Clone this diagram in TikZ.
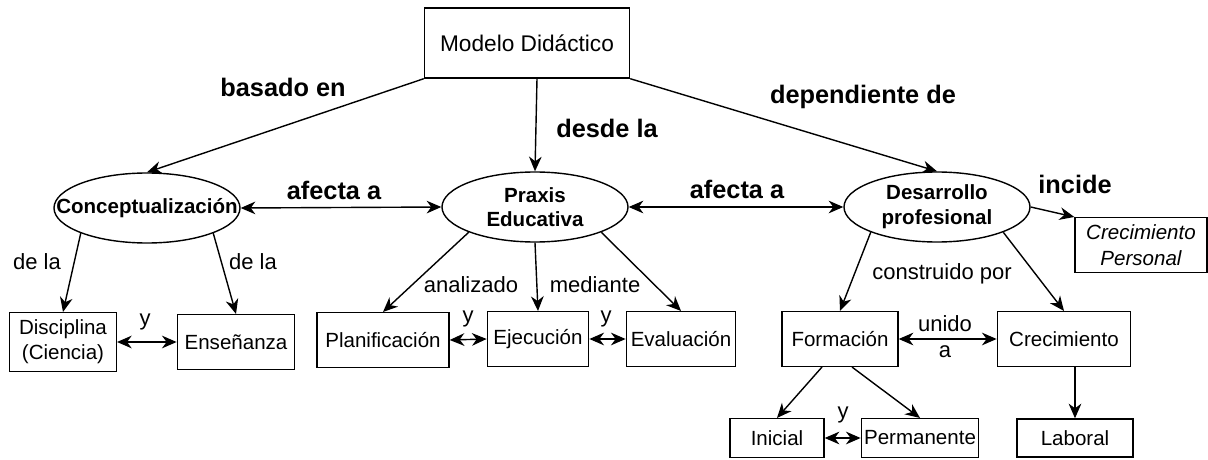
\documentclass[tikz,border=0pt]{standalone}
\usepackage{fontspec}
\setmainfont{Liberation Sans}
\usetikzlibrary{shapes.geometric,arrows.meta}
\begin{document}
\begin{tikzpicture}[x=0.75pt,y=-0.75pt,
  >={Stealth[length=11pt,width=9.5pt,inset=3.5pt]},
  caja/.style={draw, line width=1.05pt, minimum height=41pt, inner sep=0pt, align=center, font=\fontsize{15.4}{18.5}\selectfont},
  elipse/.style={draw, ellipse, line width=1.05pt, minimum width=139.5pt, minimum height=52.5pt, inner xsep=-25pt, inner ysep=0pt, align=center, font=\bfseries\fontsize{15.4}{18.5}\selectfont},
  enlace/.style={font=\bfseries\fontsize{19}{22}\selectfont},
  rotulo/.style={align=center, font=\fontsize{16.5}{19.5}\selectfont},
  flecha/.style={line width=1.05pt, ->},
  doble/.style={line width=1.05pt, <->}]
\useasboundingbox (0,0) rectangle (1208,460);
% Concepto central
\node[caja, minimum width=153.75pt, minimum height=52.5pt, font=\fontsize{17}{20}\selectfont] (modelo) at (527,43) {Modelo Didáctico};
% Elipses
\node[elipse] (concep) at (147,208) {Conceptualización};
\node[elipse] (praxis) at (535,207) {Praxis\\Educativa};
\node[elipse] (desarrollo) at (937,207) {Desarrollo\\profesional};
% Cajas
\node[caja, minimum width=80pt, minimum height=44pt] (disciplina) at (63,342) {Disciplina\\(Ciencia)};
\node[caja, minimum width=88pt] (ensenanza) at (236,342) {Enseñanza};
\node[caja, minimum width=99pt] (planif) at (383,340) {Planificación};
\node[caja, minimum width=76pt] (ejecucion) at (538,339) {Ejecución};
\node[caja, minimum width=82pt] (evaluacion) at (681,339) {Evaluación};
\node[caja, minimum width=87pt] (formacion) at (840,339) {Formación};
\node[caja, minimum width=100pt] (crecimiento) at (1064,339) {Crecimiento};
\node[caja, minimum width=99pt, font=\itshape\fontsize{15.4}{19.5}\selectfont] (personal) at (1141,245) {Crecimiento\\Personal};
\node[caja, minimum width=70.5pt, minimum height=29pt] (inicial) at (777,438) {Inicial};
\node[caja, minimum width=88pt, minimum height=29pt] (permanente) at (920,438) {Permanente};
\node[caja, minimum width=87pt, minimum height=28.5pt] (laboral) at (1075,438) {Laboral};
% Enlaces principales
\node[enlace] (lbasado) at (283,87) {basado en};
\node[enlace] (ldesde) at (607,128) {desde la};
\node[enlace] (ldepende) at (863,97) {dependiente de};
\node[enlace] (lafecta1) at (334,190) {afecta a};
\node[enlace] (lafecta2) at (737,189) {afecta a};
\node[enlace] (lincide) at (1075,184) {incide};
% Rotulos
\node[rotulo] (ldela1) at (37,262) {de la};
\node[rotulo] (ldela2) at (253,262) {de la};
\node[rotulo] (ly1) at (145,322) {y};
\node[rotulo] (lanaliz) at (471,285) {analizado};
\node[rotulo] (lmediante) at (595,285) {mediante};
\node[rotulo] (ly2) at (468,319) {y};
\node[rotulo] (ly3) at (606,319) {y};
\node[rotulo] (lconstr) at (942,274) {construido por};
\node[rotulo] (lunido) at (945,337) {unido\\a};
\node[rotulo] (ly4) at (843,415) {y};
% Flechas
\draw[flecha] (modelo.south west) -- (concep.north);
\draw[flecha] ([xshift=7.5pt]modelo.south) -- (praxis.north);
\draw[flecha] (modelo.south east) -- (desarrollo.north);
\draw[doble] (concep.east) -- (praxis.west);
\draw[doble] (praxis.east) -- (desarrollo.west);
\draw[flecha] (concep.south west) -- (disciplina.north);
\draw[flecha] (concep.south east) -- (ensenanza.north);
\draw[flecha] (praxis.south west) -- (planif.north);
\draw[flecha] (praxis.south) -- (ejecucion.north);
\draw[flecha] (praxis.south east) -- (evaluacion.north);
\draw[flecha] (desarrollo.south west) -- (formacion.north);
\draw[flecha] (desarrollo.south east) -- (crecimiento.north);
\draw[flecha] (desarrollo.east) -- (personal.north west);
\draw[flecha] ([xshift=-13.5pt]formacion.south) -- (inicial.north);
\draw[flecha] ([xshift=9pt]formacion.south) -- (permanente.north);
\draw[flecha] ([xshift=8.25pt]crecimiento.south) -- (laboral.north);
% Dobles
\draw[doble] (disciplina.east) -- (ensenanza.west);
\draw[doble] (planif.east) -- (ejecucion.west);
\draw[doble] (ejecucion.east) -- (evaluacion.west);
\draw[doble] (formacion.east) -- (crecimiento.west);
\draw[doble] (inicial.east) -- (permanente.west);
\end{tikzpicture}
\end{document}
